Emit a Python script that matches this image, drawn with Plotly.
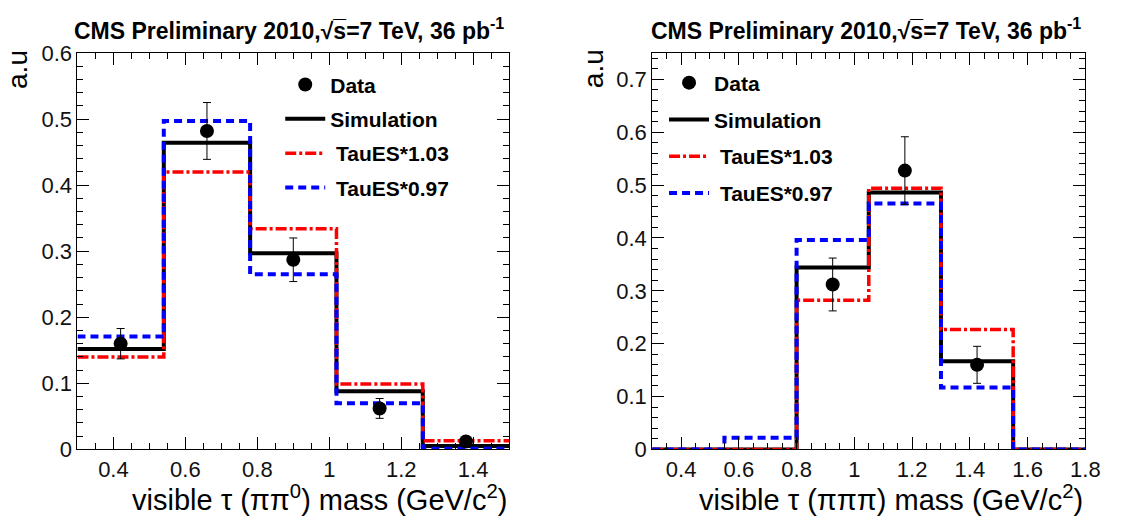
import plotly.graph_objects as go

# ---- tau -> pi pi0 channel ----
edges_pipi0 = [0.3, 0.54, 0.78, 1.02, 1.26, 1.5]
sim_pipi0 = [0.152, 0.464, 0.297, 0.088, 0.005]
up_pipi0 = [0.140, 0.420, 0.334, 0.099, 0.013]
down_pipi0 = [0.171, 0.497, 0.265, 0.070, 0.001]
data_pipi0 = [0.160, 0.482, 0.287, 0.062, 0.012]
err_pipi0 = [0.023, 0.043, 0.033, 0.015, 0.005]

# ---- tau -> pi pi pi channel ----
edges_3pi = [0.3, 0.55, 0.8, 1.05, 1.3, 1.55, 1.8]
sim_3pi = [0.0, 0.0, 0.344, 0.486, 0.167, 0.0]
up_3pi = [0.0, 0.0, 0.282, 0.494, 0.227, 0.0]
down_3pi = [0.0, 0.022, 0.396, 0.465, 0.117, 0.0]
data_3pi = [None, None, 0.312, 0.5275, 0.160, None]
err_3pi = [None, None, 0.050, 0.064, 0.035, None]

title_text = "<b>CMS Preliminary 2010,\u221As\u0305=7 TeV, 36 pb<sup>-1</sup></b>"
xtitle_left = "visible \u03c4 (\u03c0\u03c0<sup>0</sup>) mass (GeV/c<sup>2</sup>)"
xtitle_right = "visible \u03c4 (\u03c0\u03c0\u03c0) mass (GeV/c<sup>2</sup>)"

FONT = "Liberation Sans, Arial, sans-serif"
W, H = 1127, 531


def px(x):
    """Horizontal pixel position -> paper fraction."""
    return x / W


def py(y):
    """Vertical pixel position (from the top) -> paper fraction."""
    return 1 - y / H


def centers(edges):
    return [(a + b) / 2 for a, b in zip(edges[:-1], edges[1:])]


def step(edges, vals):
    return list(edges), list(vals) + [vals[-1]]


fig = go.Figure()

styles = [
    ("Simulation", dict(color="black", width=4)),
    ("\u00a0TauES*1.03", dict(color="#ff0000", width=3.5, dash="11px,3px,3px,3px")),
    ("\u00a0TauES*0.97", dict(color="#0000ff", width=4, dash="8px,5px")),
]

panels = [
    ("x", "y", "legend", edges_pipi0, [sim_pipi0, up_pipi0, down_pipi0], data_pipi0, err_pipi0),
    ("x2", "y2", "legend2", edges_3pi, [sim_3pi, up_3pi, down_3pi], data_3pi, err_3pi),
]

for xa, ya, lg, edges, hists, data, err in panels:
    for rank, ((name, line), vals) in enumerate(zip(styles, hists), start=2):
        xs, ys = step(edges, vals)
        fig.add_trace(go.Scatter(
            x=xs, y=ys, mode="lines", line_shape="hv", line=line,
            name=name, xaxis=xa, yaxis=ya, legend=lg,
            legendgroup=f"{lg}{rank}", legendrank=rank,
        ))
    fig.add_trace(go.Scatter(
        x=centers(edges), y=data, mode="markers",
        marker=dict(color="black", size=14),
        error_y=dict(type="data", array=err, color="black", thickness=1, width=4),
        name="Data", xaxis=xa, yaxis=ya, legend=lg,
        legendgroup=f"{lg}1", legendrank=1,
    ))

ydom = [py(459), py(43)]
axis_common = dict(
    showgrid=False, zeroline=False, showline=True, linecolor="black", linewidth=1,
    mirror="ticks", ticks="inside", ticklen=12, tickcolor="black", tickwidth=1,
    tickfont=dict(family=FONT, size=22, color="#111"),
)
xmin = dict(ticks="inside", ticklen=6, dtick=0.05, tickcolor="black", tickwidth=1)
ymin = dict(ticks="inside", ticklen=6, dtick=0.02, tickcolor="black", tickwidth=1)

legend_common = dict(
    bgcolor="rgba(0,0,0,0)", borderwidth=0, itemwidth=40,
    font=dict(family=FONT, size=21, color="black", weight="bold"),
    xanchor="left", yanchor="top",
)

fig.update_layout(
    width=W, height=H, autosize=False,
    margin=dict(l=0, r=0, t=0, b=0, pad=0),
    paper_bgcolor="white", plot_bgcolor="white",
    xaxis=dict(domain=[px(78.5), px(516)], range=[0.3, 1.5], dtick=0.2, tick0=0,
               minor=xmin, anchor="y", **axis_common),
    yaxis=dict(domain=ydom, range=[0, 0.6], dtick=0.1, tick0=0,
               minor=ymin, anchor="x", **axis_common),
    xaxis2=dict(domain=[px(661), px(1100)], range=[0.3, 1.8], dtick=0.2, tick0=0,
                minor=xmin, anchor="y2", **axis_common),
    yaxis2=dict(domain=ydom, range=[0, 0.75], dtick=0.1, tick0=0,
                minor=ymin, anchor="x2", **axis_common),
    legend=dict(x=px(284), y=py(55), tracegroupgap=4, **legend_common),
    legend2=dict(x=px(673), y=py(53), tracegroupgap=6.5, **legend_common),
    showlegend=True,
)

annotations = [
    dict(text=title_text, x=px(293), y=py(18), yanchor="middle", font=dict(size=23)),
    dict(text=title_text, x=px(878), y=py(18), yanchor="middle", font=dict(size=23)),
    dict(text=xtitle_left, x=px(516), y=py(531), xanchor="right", yanchor="bottom",
         font=dict(size=29)),
    dict(text=xtitle_right, x=px(1100), y=py(531), xanchor="right", yanchor="bottom",
         font=dict(size=29)),
    dict(text="a.u", x=px(17), y=py(60), yanchor="middle", textangle=-90, font=dict(size=28)),
    dict(text="a.u", x=px(601), y=py(60), yanchor="middle", textangle=-90, font=dict(size=28)),
]
for a in annotations:
    a.setdefault("xanchor", "center")
    a["font"] = dict(family=FONT, color="black", **a["font"])
    fig.add_annotation(xref="paper", yref="paper", showarrow=False, **a)

fig.write_html("out.html")
